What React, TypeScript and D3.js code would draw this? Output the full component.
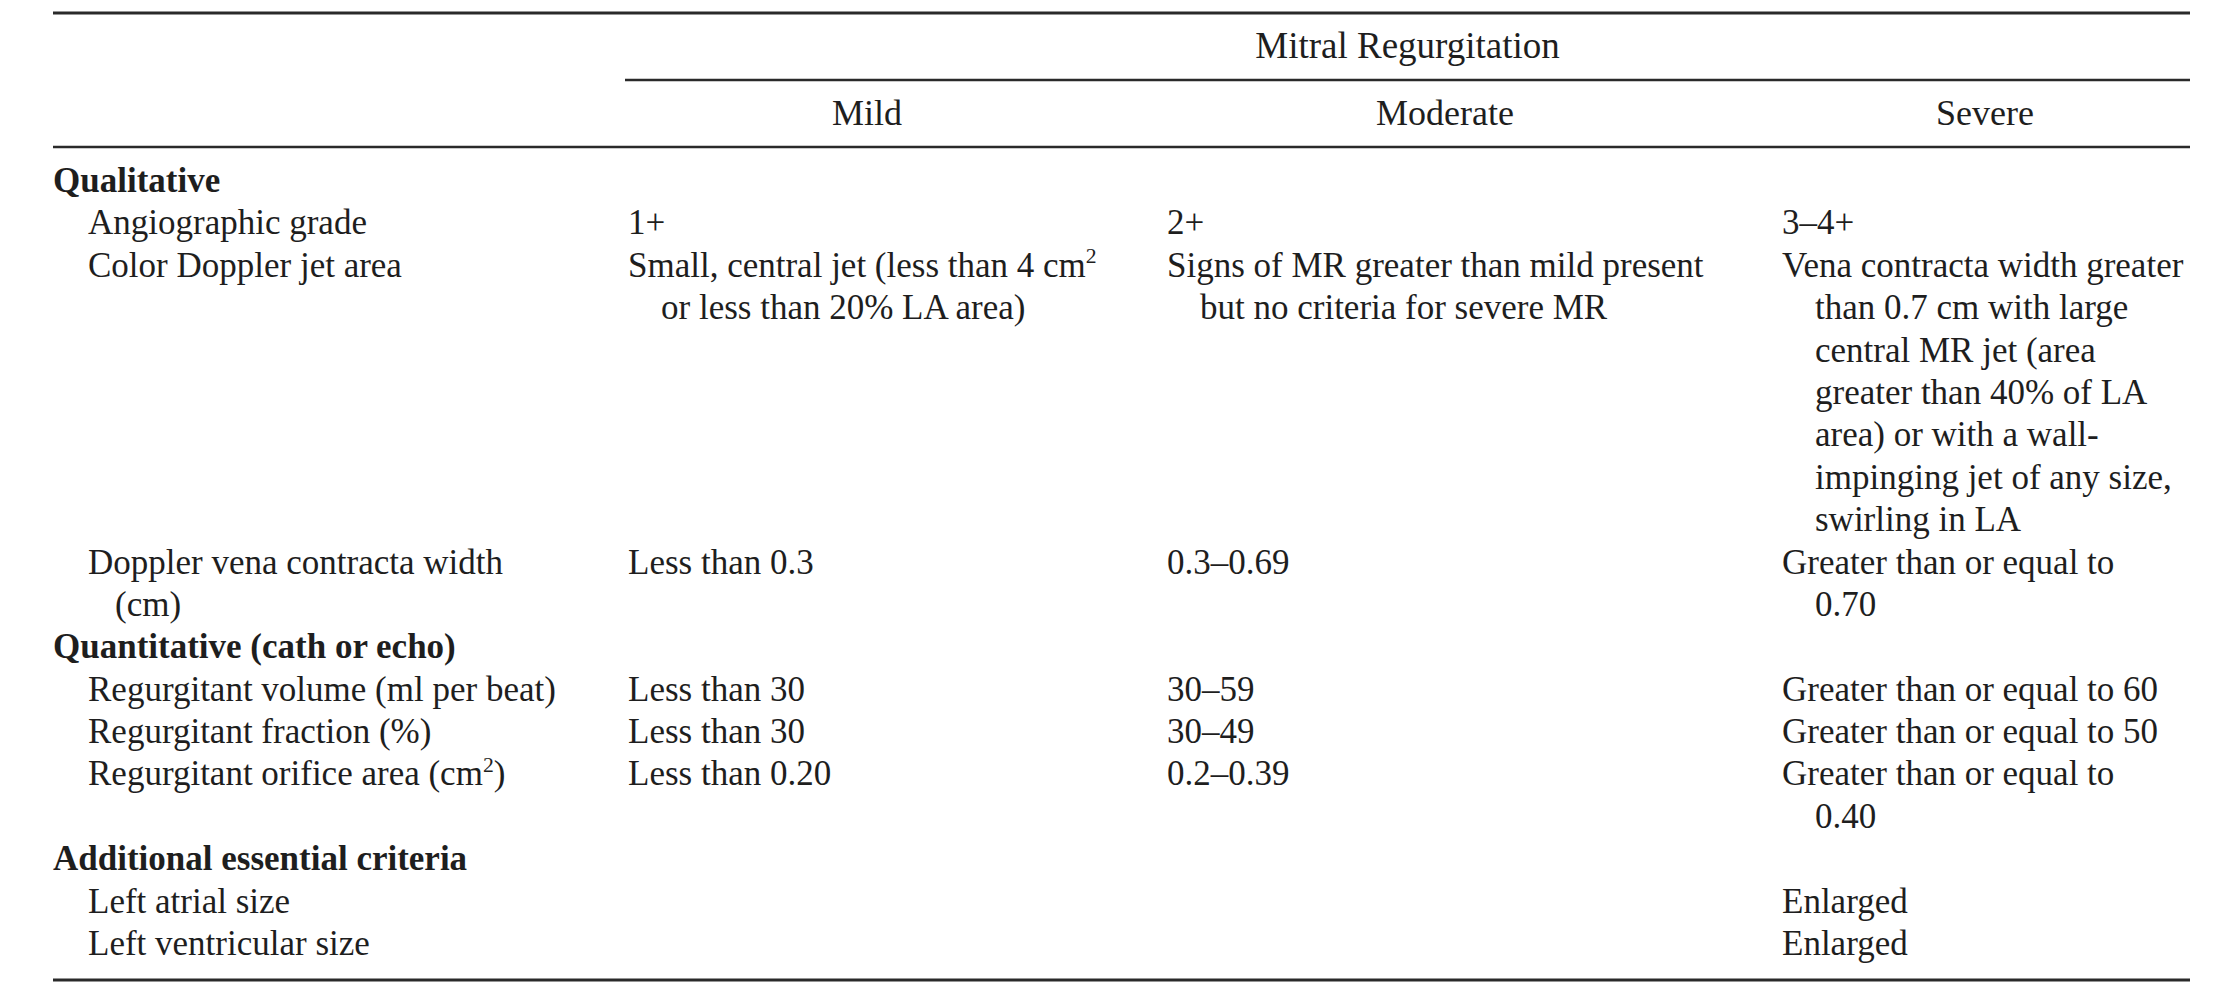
import React from "react";
import * as d3 from "d3";

// ---- Data (text content of the table) ----
const groupTitle = "Mitral Regurgitation";
const severityLevels = ["Mild", "Moderate", "Severe"];
const sectionTitles = ["Qualitative", "Quantitative (cath or echo)", "Additional essential criteria"];
const rowSection = [0, 0, 0, 1, 1, 1, 2, 2];
const rowLabels: string[][] = [
  ["Angiographic grade"],
  ["Color Doppler jet area"],
  ["Doppler vena contracta width", "(cm)"],
  ["Regurgitant volume (ml per beat)"],
  ["Regurgitant fraction (%)"],
  ["Regurgitant orifice area (cm^2)"],
  ["Left atrial size"],
  ["Left ventricular size"],
];
const mildValues: string[][] = [
  ["1+"],
  ["Small, central jet (less than 4 cm^2", "or less than 20% LA area)"],
  ["Less than 0.3"],
  ["Less than 30"],
  ["Less than 30"],
  ["Less than 0.20"],
  [],
  [],
];
const moderateValues: string[][] = [
  ["2+"],
  ["Signs of MR greater than mild present", "but no criteria for severe MR"],
  ["0.3\u20130.69"],
  ["30\u201359"],
  ["30\u201349"],
  ["0.2\u20130.39"],
  [],
  [],
];
const severeValues: string[][] = [
  ["3\u20134+"],
  [
    "Vena contracta width greater",
    "than 0.7 cm with large",
    "central MR jet (area",
    "greater than 40% of LA",
    "area) or with a wall-",
    "impinging jet of any size,",
    "swirling in LA",
  ],
  ["Greater than or equal to", "0.70"],
  ["Greater than or equal to 60"],
  ["Greater than or equal to 50"],
  ["Greater than or equal to", "0.40"],
  ["Enlarged"],
  ["Enlarged"],
];

// ---- Layout ----
const W = 2225;
const H = 995;
const FONT = "'Liberation Serif', 'Times New Roman', serif";
const INK = "#1e1e1e";
const LEFT = 53;
const RIGHT = 2190;
const colX = [628, 1167, 1782];
const colCenter = [867, 1445, 1985];
const labelX = 88;
const indent = 33;

function RichText({ s, x, y, size, weight }: { s: string; x: number; y: number; size: number; weight?: any }) {
  const parts = s.split(/\^(\d)/);
  const nodes: any[] = [];
  let shifted = false;
  parts.forEach((p, i) => {
    if (i % 2 === 1) {
      nodes.push(
        <tspan key={i} fontSize={size * 0.62} dy={-size * 0.38}>
          {p}
        </tspan>
      );
      shifted = true;
    } else if (p.length) {
      nodes.push(
        <tspan key={i} dy={shifted ? size * 0.38 : 0}>
          {p}
        </tspan>
      );
      shifted = false;
    }
  });
  return (
    <text x={x} y={y} fontSize={size} fontFamily={FONT} fill={INK} fontWeight={weight || "normal"}>
      {nodes}
    </text>
  );
}

export default function App() {
  // line index -> baseline
  const y = d3.scaleLinear().domain([0, 18]).range([192, 955]);

  type Item = { s: string; x: number; line: number; bold?: boolean };
  const items: Item[] = [];
  let line = 0;
  let prevSection = -1;
  rowLabels.forEach((lbl, r) => {
    if (rowSection[r] !== prevSection) {
      items.push({ s: sectionTitles[rowSection[r]], x: LEFT, line, bold: true });
      line += 1;
      prevSection = rowSection[r];
    }
    const cells = [lbl, mildValues[r], moderateValues[r], severeValues[r]];
    const xs = [labelX, ...colX];
    cells.forEach((cell, c) => {
      cell.forEach((txt, k) => {
        items.push({ s: txt, x: xs[c] + (k > 0 ? (c === 0 ? 27 : indent) : 0), line: line + k });
      });
    });
    line += d3.max(cells, (c) => Math.max(1, c.length)) as number;
  });

  const rules = [
    { x1: LEFT, x2: RIGHT, y: 13, w: 3 },
    { x1: 625, x2: RIGHT, y: 80, w: 2.6 },
    { x1: LEFT, x2: RIGHT, y: 147, w: 2.6 },
    { x1: LEFT, x2: RIGHT, y: 980, w: 3 },
  ];

  return (
    <svg
      width={W}
      height={H}
      viewBox={`0 0 ${W} ${H}`}
      style={{ position: "absolute", left: 0, top: 0, background: "#fff" }}
    >
      <rect x={0} y={0} width={W} height={H} fill="#fff" />
      {rules.map((r, i) => (
        <line key={i} x1={r.x1} x2={r.x2} y1={r.y} y2={r.y} stroke="#2a2a2a" strokeWidth={r.w} />
      ))}
      <text x={(625 + RIGHT) / 2} y={58} textAnchor="middle" fontSize={37} fontFamily={FONT} fill={INK}>
        {groupTitle}
      </text>
      {severityLevels.map((s, i) => (
        <text key={s} x={colCenter[i]} y={125} textAnchor="middle" fontSize={36} fontFamily={FONT} fill={INK}>
          {s}
        </text>
      ))}
      {items.map((it, i) => (
        <RichText key={i} s={it.s} x={it.x} y={y(it.line)} size={35} weight={it.bold ? "bold" : "normal"} />
      ))}
    </svg>
  );
}
